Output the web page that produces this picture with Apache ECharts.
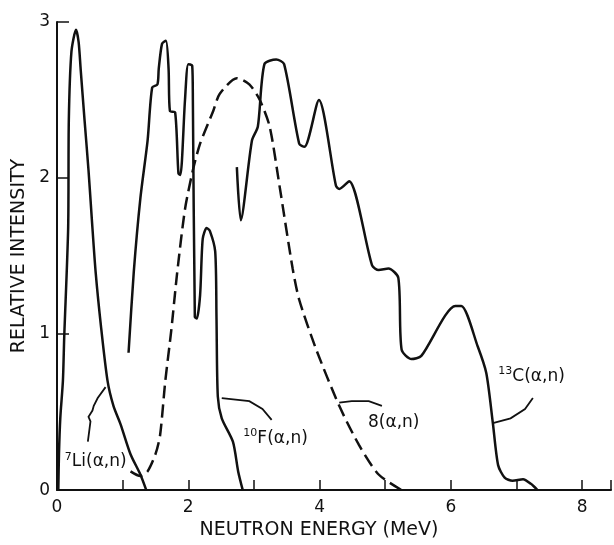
<!DOCTYPE html>
<html>
<head>
<meta charset="utf-8">
<script src="https://cdn.jsdelivr.net/npm/echarts@6/dist/echarts.min.js"></script>
<style>
  html, body { margin: 0; padding: 0; background: #fff; }
  #chart { width: 614px; height: 545px; }
</style>
</head>
<body>
<div id="chart"></div>
<script>
// neutron energy (MeV) / relative intensity
const liE = [0.02, 0.03, 0.05, 0.09, 0.11, 0.17, 0.18, 0.22, 0.29, 0.33, 0.36, 0.42, 0.48, 0.53, 0.59, 0.67, 0.77, 0.86, 0.97, 1.12, 1.27, 1.36];
const liI = [0, 0.23, 0.46, 0.70, 0.98, 1.68, 2.37, 2.81, 2.95, 2.87, 2.70, 2.37, 2.05, 1.74, 1.39, 1.05, 0.70, 0.54, 0.42, 0.23, 0.10, 0];

const fE = [1.09, 1.17, 1.27, 1.38, 1.45, 1.53, 1.55, 1.60, 1.66, 1.70, 1.72, 1.80, 1.85, 1.88, 1.95, 2.00, 2.06, 2.07, 2.10, 2.13, 2.18, 2.22, 2.28, 2.33, 2.41, 2.43, 2.45, 2.51, 2.68, 2.76, 2.83];
const fI = [0.88, 1.40, 1.87, 2.24, 2.58, 2.60, 2.70, 2.86, 2.88, 2.70, 2.43, 2.42, 2.03, 2.02, 2.50, 2.73, 2.72, 2.50, 1.11, 1.10, 1.25, 1.61, 1.68, 1.66, 1.53, 1.10, 0.60, 0.46, 0.31, 0.12, 0];

const bE = [1.12, 1.27, 1.38, 1.50, 1.57, 1.65, 1.74, 1.83, 1.95, 2.07, 2.18, 2.38, 2.48, 2.74, 2.93, 3.09, 3.24, 3.39, 3.59, 3.69, 3.95, 4.30, 4.60, 4.90, 5.25];
const bI = [0.12, 0.09, 0.12, 0.23, 0.35, 0.70, 1.02, 1.39, 1.80, 2.05, 2.22, 2.43, 2.54, 2.64, 2.60, 2.50, 2.33, 1.95, 1.42, 1.22, 0.90, 0.54, 0.29, 0.10, 0];

const cE = [2.74, 2.80, 2.97, 3.06, 3.16, 3.34, 3.46, 3.69, 3.77, 3.99, 4.25, 4.30, 4.45, 4.80, 4.90, 5.05, 5.20, 5.25, 5.40, 5.55, 6.07, 6.16, 6.41, 6.54, 6.64, 6.72, 6.82, 6.94, 7.10, 7.22, 7.32];
const cI = [2.07, 1.73, 2.24, 2.33, 2.73, 2.76, 2.73, 2.22, 2.20, 2.50, 1.95, 1.93, 1.98, 1.44, 1.41, 1.42, 1.36, 0.90, 0.84, 0.86, 1.18, 1.18, 0.92, 0.75, 0.43, 0.16, 0.08, 0.06, 0.07, 0.04, 0];

// curve labels and their leader lines
const labelText = ["{s|7}{t|Li(α,n)}", "{s|10}{t|F(α,n)}", "{t|8(α,n)}", "{s|13}{t|C(α,n)}"];
const labelE = [0.59, 3.33, 5.13, 7.23];
const labelI = [0.18, 0.33, 0.43, 0.73];

const leaders = [
  [[0.47, 0.31], [0.51, 0.44], [0.48, 0.47], [0.54, 0.51], [0.56, 0.54], [0.62, 0.59], [0.74, 0.66]],
  [[3.27, 0.45], [3.13, 0.52], [2.93, 0.57], [2.51, 0.59]],
  [[4.95, 0.54], [4.75, 0.57], [4.49, 0.57], [4.30, 0.56]],
  [[7.25, 0.59], [7.13, 0.52], [6.91, 0.46], [6.64, 0.43]]
];

const xTicks = [0, 2, 4, 6, 8];
const yTicks = [0, 1, 2, 3];

const ink = "#111";
const font = "DejaVu Sans";

const pair = (xs, ys) => xs.map((x, i) => [x, ys[i]]);

const chart = echarts.init(document.getElementById("chart"));

const curve = (name, xs, ys, dashed) => ({
  name,
  type: "line",
  data: pair(xs, ys),
  smooth: 0.25,
  symbol: "none",
  lineStyle: { color: ink, width: 2.5, type: dashed ? [13, 6] : "solid" },
  z: 3,
});

chart.setOption({
  animation: false,
  grid: { left: 57, right: 0, top: 22, bottom: 49 },
  xAxis: {
    type: "value",
    min: 0,
    max: 8.44,
    interval: 1,
    name: "NEUTRON ENERGY (MeV)",
    nameLocation: "middle",
    nameGap: 30,
    nameTextStyle: { fontFamily: font, fontSize: 19, color: ink, padding: [0, 30, 0, 0] },
    axisLine: { lineStyle: { color: ink, width: 2 } },
    axisTick: { inside: true, length: 10, lineStyle: { color: ink, width: 1.5 } },
    axisLabel: {
      fontFamily: font, fontSize: 17, color: ink, margin: 9,
      formatter: (v) => (xTicks.includes(v) ? String(v) : ""),
    },
    splitLine: { show: false },
  },
  yAxis: {
    type: "value",
    min: 0,
    max: 3,
    interval: 1,
    name: "RELATIVE INTENSITY",
    nameLocation: "middle",
    nameRotate: 90,
    nameGap: 28,
    nameTextStyle: { fontFamily: font, fontSize: 19, color: ink },
    axisLine: { show: true, lineStyle: { color: ink, width: 2 } },
    axisTick: { show: true, inside: true, length: 12, lineStyle: { color: ink, width: 1.5 } },
    axisLabel: {
      fontFamily: font, fontSize: 17, color: ink, margin: 7,
      formatter: (v) => (yTicks.includes(v) ? String(v) : ""),
    },
    splitLine: { show: false },
  },
  series: [
    curve("7Li(a,n)", liE, liI, false),
    curve("10F(a,n)", fE, fI, false),
    curve("8(a,n)", bE, bI, true),
    curve("13C(a,n)", cE, cI, false),
    {
      type: "lines",
      coordinateSystem: "cartesian2d",
      polyline: true,
      symbol: ["none", "arrow"],
      symbolSize: 6,
      lineStyle: { color: ink, width: 1.8, opacity: 1 },
      data: leaders.map((c) => ({ coords: c })),
      z: 4,
    },
    {
      type: "scatter",
      symbolSize: 0,
      itemStyle: { opacity: 1 },
      data: pair(labelE, labelI).map((p, i) => ({ value: p, text: labelText[i] })),
      label: {
        show: true,
        position: "inside",
        color: ink,
        opacity: 1,
        formatter: (p) => p.data.text,
        rich: {
          t: { fontFamily: font, fontSize: 17, color: ink },
          s: { fontFamily: font, fontSize: 11, color: ink, padding: [0, 0, 10, 0] },
        },
      },
      z: 5,
    },
  ],
});
</script>
</body>
</html>
